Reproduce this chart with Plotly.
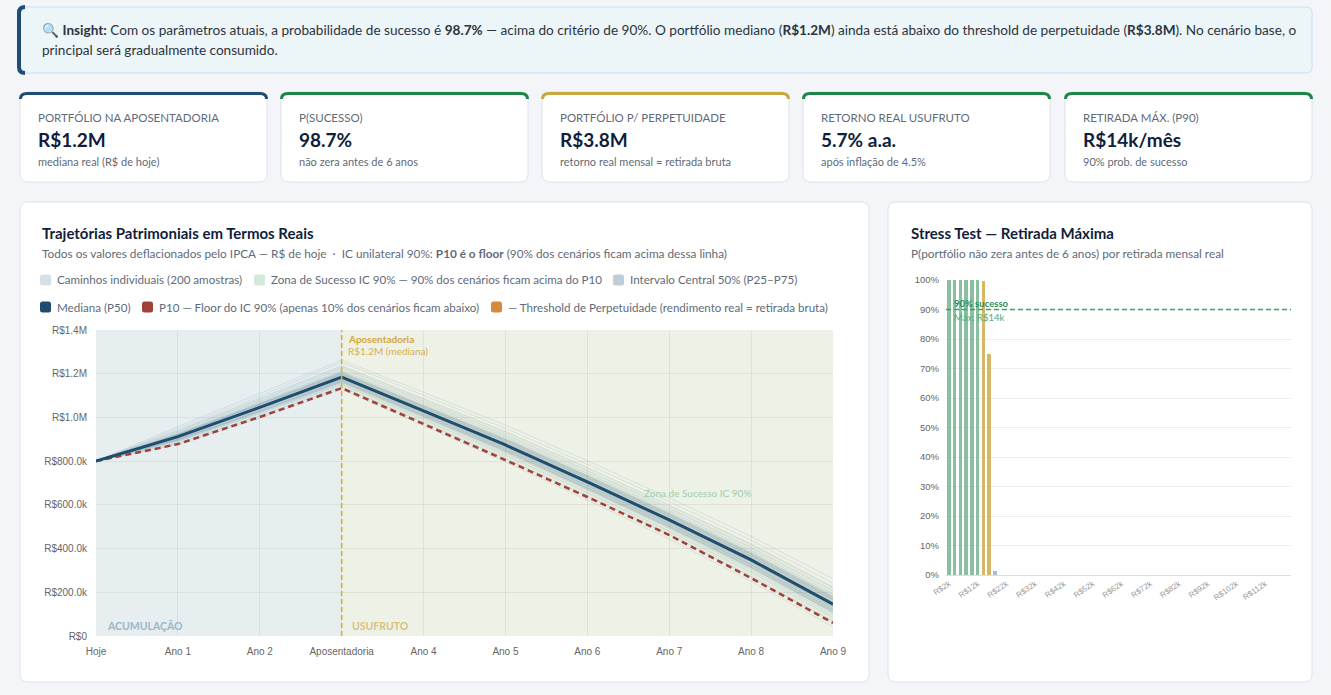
import plotly.graph_objects as go

W, H = 1331, 695
FONT = "Lato"
AXIS_FONT = "Liberation Sans"

# ---- data ----
insight_line1 = ("🔍 <b>Insight:</b> Com os parâmetros atuais, a probabilidade de sucesso é <b>98.7%</b> — "
                 "acima do critério de 90%. O portfólio mediano (<b>R$1.2M</b>) ainda está abaixo do threshold "
                 "de perpetuidade (<b>R$3.8M</b>). No cenário base, o")
insight_line2 = "principal será gradualmente consumido."

kpi_labels = ["PORTFÓLIO NA APOSENTADORIA", "P(SUCESSO)", "PORTFÓLIO P/ PERPETUIDADE",
              "RETORNO REAL USUFRUTO", "RETIRADA MÁX. (P90)"]
kpi_values = ["R$1.2M", "98.7%", "R$3.8M", "5.7% a.a.", "R$14k/mês"]
kpi_subs = ["mediana real (R$ de hoje)", "não zera antes de 6 anos", "retorno real mensal = retirada bruta",
            "após inflação de 4.5%", "90% prob. de sucesso"]

years = [0, 1, 2, 3, 4, 5, 6, 7, 8, 9]
year_labels = ["Hoje", "Ano 1", "Ano 2", "Aposentadoria", "Ano 4", "Ano 5", "Ano 6", "Ano 7", "Ano 8", "Ano 9"]
retire_year = 3

# values in R$ thousands (real terms)
median = [800, 912, 1046, 1185, 1030, 874, 705, 531, 348, 146]
p10 = [800, 878, 1002, 1134, 970, 805, 636, 462, 265, 60]
p25 = [800, 895, 1025, 1160, 1002, 842, 670, 495, 310, 105]
p75 = [800, 928, 1068, 1210, 1058, 905, 738, 565, 385, 185]
p90 = [800, 945, 1090, 1240, 1090, 938, 772, 600, 425, 228]
perpetuity_threshold = 3800

sample_paths = [
    [800, 905, 1040, 1175, 1020, 865, 697, 522, 338, 135],
    [800, 920, 1058, 1198, 1045, 890, 722, 548, 366, 166],
    [800, 890, 1018, 1150, 990, 828, 656, 480, 292, 84],
    [800, 935, 1080, 1226, 1076, 922, 756, 584, 404, 206],
    [800, 900, 1030, 1168, 1012, 856, 688, 512, 326, 120],
    [800, 950, 1098, 1252, 1102, 950, 786, 615, 438, 242],
    [800, 882, 1008, 1140, 978, 812, 640, 465, 272, 66],
    [800, 915, 1050, 1190, 1036, 880, 712, 536, 356, 152],
    [800, 928, 1072, 1214, 1066, 912, 744, 572, 392, 192],
    [800, 897, 1026, 1162, 1005, 848, 676, 500, 314, 108],
    [800, 940, 1088, 1235, 1085, 935, 770, 598, 420, 222],
    [800, 910, 1044, 1182, 1028, 872, 703, 528, 344, 142],
    [800, 875, 998, 1128, 962, 796, 622, 444, 250, 42],
    [800, 958, 1110, 1262, 1115, 965, 802, 632, 456, 262],
    [800, 922, 1062, 1204, 1052, 898, 730, 556, 374, 174],
    [800, 893, 1022, 1156, 998, 838, 668, 492, 304, 96],
]

y_ticks = [0, 200000, 400000, 600000, 800000, 1000000, 1200000, 1400000]
y_tick_labels = ["R$0", "R$200.0k", "R$400.0k", "R$600.0k", "R$800.0k", "R$1.0M", "R$1.2M", "R$1.4M"]

# stress test: monthly real withdrawal (R$ k) vs P(success) %
withdrawals = [2, 4, 6, 8, 10, 12, 14, 16, 18, 20, 22, 24, 26, 28, 30, 32, 34, 36, 38, 40,
               42, 44, 46, 48, 50, 52, 54, 56, 58, 60, 62, 64, 66, 68, 70, 72, 74, 76, 78, 80,
               82, 84, 86, 88, 90, 92, 94, 96, 98, 100, 102, 104, 106, 108, 110, 112, 114, 116, 118, 120]
p_success = [100, 100, 100, 100, 100, 100, 99.6, 75, 1.2, 0, 0, 0, 0, 0, 0, 0, 0, 0, 0, 0,
             0, 0, 0, 0, 0, 0, 0, 0, 0, 0, 0, 0, 0, 0, 0, 0, 0, 0, 0, 0,
             0, 0, 0, 0, 0, 0, 0, 0, 0, 0, 0, 0, 0, 0, 0, 0, 0, 0, 0, 0]
success_target = 90
stress_ticks = [2, 12, 22, 32, 42, 52, 62, 72, 82, 92, 102, 112]
stress_tick_labels = ["R$2k", "R$12k", "R$22k", "R$32k", "R$42k", "R$52k", "R$62k", "R$72k",
                      "R$82k", "R$92k", "R$102k", "R$112k"]
pct_ticks = [0, 10, 20, 30, 40, 50, 60, 70, 80, 90, 100]
pct_tick_labels = ["0%", "10%", "20%", "30%", "40%", "50%", "60%", "70%", "80%", "90%", "100%"]


def X(px):
    return px / W


def Y(py):
    return 1 - py / H


def rounded(x0, y0, x1, y1, r):
    pts = [
        f"M{X(x0 + r)},{Y(y0)}", f"L{X(x1 - r)},{Y(y0)}", f"Q{X(x1)},{Y(y0)} {X(x1)},{Y(y0 + r)}",
        f"L{X(x1)},{Y(y1 - r)}", f"Q{X(x1)},{Y(y1)} {X(x1 - r)},{Y(y1)}",
        f"L{X(x0 + r)},{Y(y1)}", f"Q{X(x0)},{Y(y1)} {X(x0)},{Y(y1 - r)}",
        f"L{X(x0)},{Y(y0 + r)}", f"Q{X(x0)},{Y(y0)} {X(x0 + r)},{Y(y0)}", "Z",
    ]
    return " ".join(pts)


shapes = []
annotations = []


def card(x0, y0, x1, y1, fill="white", border="#dde3ea", r=8):
    shapes.append(dict(type="path", path=rounded(x0, y0, x1, y1, r), xref="paper", yref="paper",
                       fillcolor=fill, line=dict(color=border, width=1), layer="below"))


def text(x, y, s, size, color, anchor="left", family=FONT):
    annotations.append(dict(x=X(x), y=Y(y), xref="paper", yref="paper", text=s, showarrow=False,
                            xanchor=anchor, yanchor="middle", align=anchor,
                            font=dict(size=size, color=color, family=family)))


# insight box
card(18, 7, 1312, 73, fill="#ecf5f7", border="#c9dff0", r=6)
shapes.append(dict(type="path", xref="paper", yref="paper", layer="below",
                   path=f"M{X(25)},{Y(7)} Q{X(19)},{Y(7)} {X(19)},{Y(13)} L{X(19)},{Y(67)} "
                        f"Q{X(19)},{Y(73)} {X(25)},{Y(73)}",
                   line=dict(color="#1e4d78", width=4)))
text(40, 30, insight_line1, 13.6, "#2c3440")
text(40, 50, insight_line2, 13.6, "#2c3440")

# kpi cards
kpi_x = [20, 281, 542, 803, 1065]
kpi_accent = ["#1e4d78", "#1e8449", "#c9a640", "#1e8449", "#1e8449"]
for i, x0 in enumerate(kpi_x):
    x1 = x0 + 247
    card(x0, 92, x1, 182)
    shapes.append(dict(type="path", xref="paper", yref="paper", layer="below",
                       path=f"M{X(x0 + 0.5)},{Y(99)} Q{X(x0 + 0.5)},{Y(93.5)} {X(x0 + 7)},{Y(93.5)} "
                            f"L{X(x1 - 7)},{Y(93.5)} Q{X(x1 - 0.5)},{Y(93.5)} {X(x1 - 0.5)},{Y(99)}",
                       line=dict(color=kpi_accent[i], width=3)))
    text(x0 + 16, 117, kpi_labels[i], 11.5, "#5f6b78")
    text(x0 + 16, 140, f"<b>{kpi_values[i]}</b>", 19, "#0f1e3c")
    text(x0 + 16, 161, kpi_subs[i], 11, "#5f6b78")

# chart cards
card(20, 202, 869, 682)
card(888, 202, 1312, 682)

text(40, 233, "<b>Trajetórias Patrimoniais em Termos Reais</b>", 15, "#0f1e3c")
text(40, 253, "Todos os valores deflacionados pelo IPCA — R$ de hoje  ·  IC unilateral 90%: "
              "<b>P10 é o floor</b> (90% dos cenários ficam acima dessa linha)", 11.8, "#5f6b78")
text(909, 233, "<b>Stress Test — Retirada Máxima</b>", 15, "#0f1e3c")
text(909, 253, "P(portfólio não zera antes de 6 anos) por retirada mensal real", 11.8, "#5f6b78")

# custom legend
legend_items = [
    (40, 280, "#d5dfe8", "Caminhos individuais (200 amostras)"),
    (254, 280, "#d3e9dc", "Zona de Sucesso IC 90% — 90% dos cenários ficam acima do P10"),
    (613, 280, "#bfcdd8", "Intervalo Central 50% (P25–P75)"),
    (40, 307, "#1e4d6e", "Mediana (P50)"),
    (142, 307, "#a0413a", "P10 — Floor do IC 90% (apenas 10% dos cenários ficam abaixo)"),
    (491, 307, "#d68a40", "— Threshold de Perpetuidade (rendimento real = retirada bruta)"),
]
for lx, ly, col, label in legend_items:
    shapes.append(dict(type="path", path=rounded(lx, ly - 5.5, lx + 11, ly + 5.5, 2.5), xref="paper",
                       yref="paper", fillcolor=col, line=dict(width=0), layer="below"))
    text(lx + 15, ly, label, 11.6, "#5f6b78")

fig = go.Figure()

for path in sample_paths:
    fig.add_trace(go.Scatter(x=years, y=[v * 1000 for v in path], mode="lines",
                             line=dict(color="rgba(40,85,125,0.11)", width=1),
                             hoverinfo="skip", showlegend=False))

fig.add_trace(go.Scatter(x=years, y=[v * 1000 for v in p90], mode="lines", line=dict(width=0),
                         hoverinfo="skip", showlegend=False))
fig.add_trace(go.Scatter(x=years, y=[v * 1000 for v in p10], mode="lines", line=dict(width=0),
                         fill="tonexty", fillcolor="rgba(70,160,100,0.06)", hoverinfo="skip",
                         showlegend=False))
fig.add_trace(go.Scatter(x=years, y=[v * 1000 for v in p25], mode="lines", line=dict(width=0),
                         hoverinfo="skip", showlegend=False))
fig.add_trace(go.Scatter(x=years, y=[v * 1000 for v in p75], mode="lines", line=dict(width=0),
                         fill="tonexty", fillcolor="rgba(40,85,125,0.17)", hoverinfo="skip",
                         showlegend=False))
fig.add_trace(go.Scatter(x=years, y=[perpetuity_threshold * 1000] * len(years), mode="lines",
                         line=dict(color="#d68a40", width=2, dash="dash"), name="Threshold",
                         showlegend=False))
fig.add_trace(go.Scatter(x=years, y=[v * 1000 for v in p10], mode="lines",
                         line=dict(color="#a0413a", width=2.5, dash="6px,4px"), name="P10",
                         showlegend=False))
fig.add_trace(go.Scatter(x=years, y=[v * 1000 for v in median], mode="lines",
                         line=dict(color="#1e4d6e", width=3), name="Mediana", showlegend=False))

# stress test bars
max_ok = max(w for w, p in zip(withdrawals, p_success) if p >= success_target)
bar_colors = []
for w, p in zip(withdrawals, p_success):
    if w == max_ok or 50 <= p < success_target:
        bar_colors.append("rgba(205,165,60,0.8)")
    elif p >= success_target:
        bar_colors.append("rgba(60,150,95,0.6)")
    else:
        bar_colors.append("rgba(110,145,185,0.6)")
fig.add_trace(go.Bar(x=withdrawals, y=p_success, marker=dict(color=bar_colors, line=dict(width=0)),
                     width=1.3, xaxis="x2", yaxis="y2", showlegend=False))

# left chart decorations
shapes.append(dict(type="rect", xref="x", yref="y", x0=0, x1=retire_year, y0=0, y1=1400000,
                   fillcolor="#e6eeef", line=dict(width=0), layer="below"))
shapes.append(dict(type="rect", xref="x", yref="y", x0=retire_year, x1=9, y0=0, y1=1400000,
                   fillcolor="#eef1e6", line=dict(width=0), layer="below"))
shapes.append(dict(type="line", xref="x", yref="y", x0=retire_year, x1=retire_year, y0=0, y1=1400000,
                   line=dict(color="#e0ae3a", width=1.6, dash="5px,3px"), layer="above"))
shapes.append(dict(type="line", xref="x2 domain", yref="y2", x0=0, x1=1, y0=success_target,
                   y1=success_target, line=dict(color="#3aa35f", width=1.3, dash="5px,3px"),
                   layer="above"))

text(346, 339, "<b>Aposentadoria</b>", 10, "#d4a838")
text(346, 351, "R$1.2M (mediana)", 10, "#d4b050")
text(105, 626, "<b>ACUMULAÇÃO</b>", 10.5, "#9ab6ca")
text(350, 626, "<b>USUFRUTO</b>", 10.5, "#d8c27e")
text(697, 493, "Zona de Sucesso IC 90%", 10, "#9dcfae", anchor="center")
text(952, 303, "<b>90% sucesso</b>", 9.5, "#2e8b57")
text(952, 317, "Máx: R$14k", 9.5, "#5aa878")

tick_font = dict(family=AXIS_FONT, size=10, color="#666")
fig.update_layout(
    width=W, height=H,
    margin=dict(l=0, r=0, t=0, b=0),
    paper_bgcolor="#f3f5f9",
    plot_bgcolor="rgba(0,0,0,0)",
    shapes=shapes,
    annotations=annotations,
    showlegend=False,
    bargap=0,
    xaxis=dict(domain=[X(96), X(833)], range=[0, 9], tickvals=years, ticktext=year_labels,
               showgrid=True, gridcolor="rgba(0,0,0,0.06)", zeroline=False, automargin=False,
               tickfont=tick_font, ticklabelstandoff=8),
    yaxis=dict(domain=[Y(636), Y(330)], range=[0, 1400000], tickvals=y_ticks, ticktext=y_tick_labels,
               showgrid=True, gridcolor="rgba(0,0,0,0.06)", zeroline=False, automargin=False,
               tickfont=tick_font, ticklabelstandoff=8),
    xaxis2=dict(domain=[X(946), X(1291)], range=[1, 121], tickvals=stress_ticks,
                ticktext=stress_tick_labels, tickangle=-35, showgrid=False, automargin=False,
                zeroline=False, showline=True, linecolor="#ddd", anchor="y2",
                tickfont=dict(family=AXIS_FONT, size=8, color="#999")),
    yaxis2=dict(domain=[Y(575), Y(280)], range=[0, 100], tickvals=pct_ticks, ticktext=pct_tick_labels,
                showgrid=True, gridcolor="#eeeeee", zeroline=False, anchor="x2", automargin=False,
                tickfont=dict(family=AXIS_FONT, size=9.5, color="#666"), ticklabelstandoff=6),
)

fig.write_html("out.html", config={"displayModeBar": False},
               post_script="document.body.style.margin='0px';")
